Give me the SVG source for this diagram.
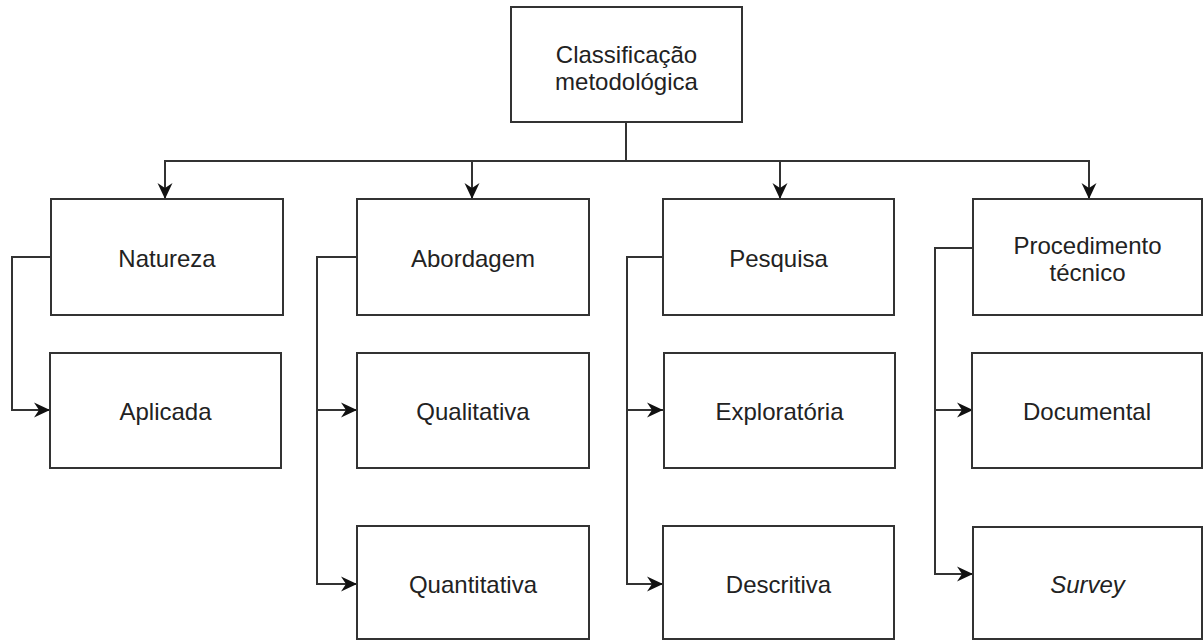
<svg xmlns="http://www.w3.org/2000/svg" width="1203" height="640" viewBox="0 0 1203 640">
  <style>
    .box { fill: #ffffff; stroke: #333333; stroke-width: 2; }
    .lbl { font-family: "Liberation Sans", Arial, sans-serif; font-size: 24px; fill: #222222; text-anchor: middle; }
    .it { font-style: italic; }
    .edge { fill: none; stroke: #333333; stroke-width: 2; marker-end: url(#arrow); }
    .plain { fill: none; stroke: #333333; stroke-width: 2; }
  </style>
  <defs>
    <marker id="arrow" markerUnits="userSpaceOnUse" markerWidth="18" markerHeight="18" viewBox="0 0 18 18" refX="17" refY="9" orient="auto">
      <path d="M1,1.5 L17,9 L1,16.5 L6,9 Z" fill="#111111"/>
    </marker>
  </defs>
  <rect width="1203" height="640" fill="#ffffff"/>

  <g id="connectors">
    <path class="plain" d="M626,122 V161"/>
    <path class="edge" d="M626,161 H165 V199"/>
    <path class="edge" d="M626,161 H472 V199"/>
    <path class="edge" d="M626,161 H780 V199"/>
    <path class="edge" d="M626,161 H1089 V199"/>

    <path class="edge" d="M51,257 H12 V410 H50"/>

    <path class="edge" d="M357,257 H317 V410 H357"/>
    <path class="edge" d="M357,257 H317 V584 H357"/>

    <path class="edge" d="M663,257 H627 V410 H663"/>
    <path class="edge" d="M663,257 H627 V584 H663"/>

    <path class="edge" d="M973,248 H935 V410 H973"/>
    <path class="edge" d="M973,248 H935 V574 H973"/>
  </g>

  <g id="node-root">
    <rect class="box" x="511" y="7" width="231" height="115"/>
    <text class="lbl" x="626.5" y="63">Classificação</text>
    <text class="lbl" x="626.5" y="90">metodológica</text>
  </g>

  <g id="node-natureza">
    <rect class="box" x="51" y="199" width="232" height="116"/>
    <text class="lbl" x="167" y="267">Natureza</text>
  </g>
  <g id="node-aplicada">
    <rect class="box" x="50" y="353" width="231" height="115"/>
    <text class="lbl" x="165.5" y="420">Aplicada</text>
  </g>

  <g id="node-abordagem">
    <rect class="box" x="357" y="199" width="232" height="116"/>
    <text class="lbl" x="473" y="267">Abordagem</text>
  </g>
  <g id="node-qualitativa">
    <rect class="box" x="357" y="353" width="232" height="115"/>
    <text class="lbl" x="473" y="420">Qualitativa</text>
  </g>
  <g id="node-quantitativa">
    <rect class="box" x="357" y="526" width="232" height="113"/>
    <text class="lbl" x="473" y="593">Quantitativa</text>
  </g>

  <g id="node-pesquisa">
    <rect class="box" x="663" y="199" width="231" height="116"/>
    <text class="lbl" x="778.5" y="267">Pesquisa</text>
  </g>
  <g id="node-exploratoria">
    <rect class="box" x="664" y="353" width="231" height="115"/>
    <text class="lbl" x="779.5" y="420">Exploratória</text>
  </g>
  <g id="node-descritiva">
    <rect class="box" x="663" y="526" width="231" height="113"/>
    <text class="lbl" x="778.5" y="593">Descritiva</text>
  </g>

  <g id="node-procedimento">
    <rect class="box" x="973" y="199" width="229" height="116"/>
    <text class="lbl" x="1087.5" y="254">Procedimento</text>
    <text class="lbl" x="1087.5" y="281">técnico</text>
  </g>
  <g id="node-documental">
    <rect class="box" x="972" y="353" width="230" height="115"/>
    <text class="lbl" x="1087" y="420">Documental</text>
  </g>
  <g id="node-survey">
    <rect class="box" x="973" y="527" width="229" height="112"/>
    <text class="lbl it" x="1087.5" y="593">Survey</text>
  </g>
</svg>
